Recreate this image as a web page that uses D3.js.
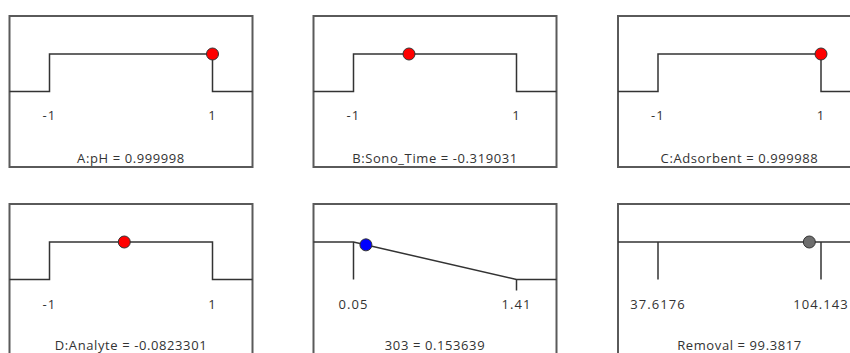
<!DOCTYPE html>
<html>
<head>
<meta charset="utf-8">
<script src="https://cdn.jsdelivr.net/npm/d3@7"></script>
<style>
  body { margin: 0; background: #fff; }
  svg { display: block; }
  text { font-family: "Open Sans", sans-serif; fill: #333; }
</style>
</head>
<body>
<div id="chart"></div>
<script>
// one entry per panel, row by row
const panelNames = ['A:pH', 'B:Sono_Time', 'C:Adsorbent', 'D:Analyte', '303', 'Removal'];
const panelValues = [0.999998, -0.319031, 0.999988, -0.0823301, 0.153639, 99.3817];
const tickLabels = [['-1', '1'], ['-1', '1'], ['-1', '1'], ['-1', '1'], ['0.05', '1.41'], ['37.6176', '104.143']];
const tickValues = [[-1, 1], [-1, 1], [-1, 1], [-1, 1], [0.05, 1.41], [37.6176, 104.143]];
// desirability shape: 'range' = step box, 'min' = ramp down, 'none' = flat response
const panelShapes = ['range', 'range', 'range', 'range', 'min', 'none'];
const dotColors = ['#ff0000', '#ff0000', '#ff0000', '#ff0000', '#0000ff', '#6e6e6e'];

const width = 850, height = 353;
const boxW = 243, boxH = 151;
const colX = [9.5, 313.5, 618];
const rowY = [16, 204];

const svg = d3.select('#chart').append('svg')
  .attr('width', width)
  .attr('height', height);

panelNames.forEach((name, i) => {
  const g = svg.append('g')
    .attr('transform', `translate(${colX[i % 3]},${rowY[Math.floor(i / 3)]})`);

  const x = d3.scaleLinear().domain(tickValues[i]).range([40, 203]);
  const y = d3.scaleLinear().domain([0, 1]).range([75.5, 38]);
  const [lo, hi] = tickValues[i];
  const left = x.invert(0), right = x.invert(boxW);

  let curve;
  if (panelShapes[i] === 'range') {
    curve = [[left, 0], [lo, 0], [lo, 1], [hi, 1], [hi, 0], [right, 0]];
  } else if (panelShapes[i] === 'min') {
    curve = [[left, 1], [lo, 1], [hi, 0], [right, 0]];
  } else {
    curve = [[left, 1], [right, 1]];
  }
  const level = v => {
    if (panelShapes[i] === 'min') return Math.max(0, Math.min(1, (hi - v) / (hi - lo)));
    return 1;
  };

  g.append('rect')
    .attr('width', boxW)
    .attr('height', boxH)
    .attr('fill', 'none')
    .attr('stroke', '#5a5a5a')
    .attr('stroke-width', 2);

  // tick marks from the curve down
  if (panelShapes[i] !== 'range') {
    tickValues[i].forEach(t => {
      const y0 = y(level(t));
      g.append('line')
        .attr('x1', x(t)).attr('x2', x(t))
        .attr('y1', y0).attr('y2', Math.max(y(0), y0 + 11))
        .attr('stroke', '#333')
        .attr('stroke-width', 1.5);
    });
  }

  g.append('path')
    .attr('d', d3.line().x(d => x(d[0])).y(d => y(d[1]))(curve))
    .attr('fill', 'none')
    .attr('stroke', '#333')
    .attr('stroke-width', 1.5);

  g.selectAll('.tick-label')
    .data(tickValues[i])
    .enter()
    .append('text')
    .attr('class', 'tick-label')
    .attr('x', d => x(d))
    .attr('y', i < 3 ? 99 : 100)
    .attr('dy', '0.35em')
    .attr('text-anchor', 'middle')
    .attr('font-size', '13px')
    .attr('letter-spacing', '1.1px')
    .text((d, j) => tickLabels[i][j]);

  g.append('circle')
    .attr('cx', x(panelValues[i]))
    .attr('cy', y(level(panelValues[i])))
    .attr('r', 6)
    .attr('fill', dotColors[i])
    .attr('stroke', '#333')
    .attr('stroke-width', 1);

  g.append('text')
    .attr('x', boxW / 2)
    .attr('y', i < 3 ? 142 : 141)
    .attr('dy', '0.35em')
    .attr('text-anchor', 'middle')
    .attr('font-size', '13px')
    .attr('letter-spacing', '0.6px')
    .text(`${name} = ${panelValues[i]}`);
});
</script>
</body>
</html>
